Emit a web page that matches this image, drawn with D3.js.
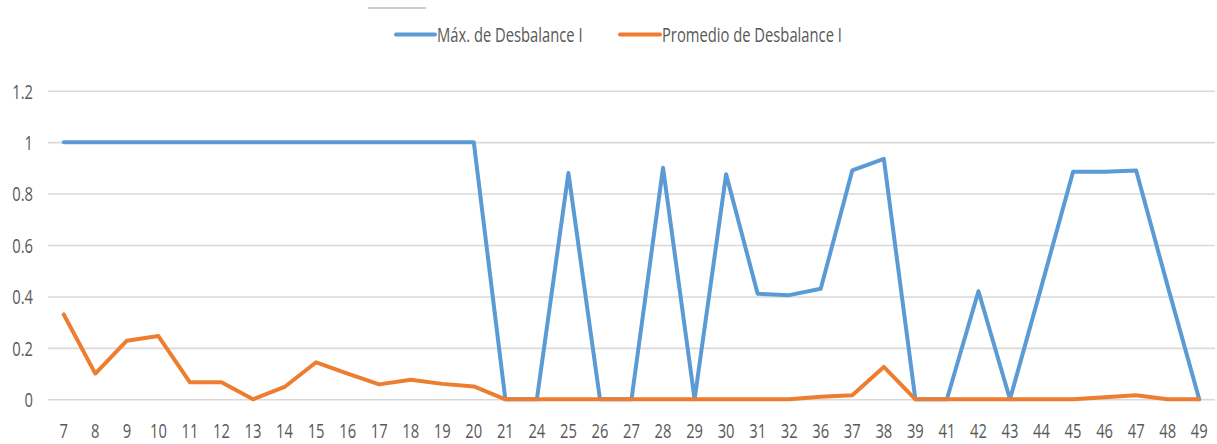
<!DOCTYPE html>
<html>
<head>
<meta charset="utf-8">
<script src="https://cdn.jsdelivr.net/npm/d3@7"></script>
<style>
  html, body { margin: 0; padding: 0; background: #ffffff; }
  svg { display: block; }
  text { font-family: "Open Sans", "Liberation Sans", sans-serif; fill: #595959; }
</style>
</head>
<body>
<script>
// Categories along the x axis
const categories = ["7","8","9","10","11","12","13","14","15","16","17","18","19","20","21","24","25","26","27","28","29","30","31","32","36","37","38","39","41","42","43","44","45","46","47","48","49"];

// Máx. de Desbalance I
const maxValues = [1,1,1,1,1,1,1,1,1,1,1,1,1,1,0,0,0.88,0,0,0.9,0,0.875,0.41,0.405,0.43,0.89,0.935,0,0,0.42,0,0.44,0.885,0.885,0.89,0.44,0];

// Promedio de Desbalance I
const avgValues = [0.33,0.1,0.228,0.246,0.066,0.066,0,0.048,0.144,0.1,0.058,0.076,0.06,0.05,0,0,0,0,0,0,0,0,0,0,0.01,0.016,0.126,0,0,0,0,0,0,0.008,0.016,0,0];

const seriesNames = ["Máx. de Desbalance I", "Promedio de Desbalance I"];
const seriesColors = ["#5B9BD5", "#ED7D31"];
const yTicks = [0, 0.2, 0.4, 0.6, 0.8, 1, 1.2];

const W = 1217, H = 444;
const textScale = 0.72;
const fontSize = 20.5;

const svg = d3.select("body").append("svg")
  .attr("width", W).attr("height", H);

const x = d3.scaleBand().domain(categories).range([48, 1215]).padding(0);
const y = d3.scaleLinear().domain([0, 1.2]).range([399.3, 90.7]);
const cx = c => x(c) + x.bandwidth() / 2;

// Horizontal gridlines with value labels
const yAxis = svg.append("g")
  .attr("transform", "translate(48,0)")
  .call(d3.axisLeft(y).tickValues(yTicks).tickFormat(d3.format("~g"))
    .tickSize(-(1215 - 48)).tickPadding(0));
yAxis.select(".domain").remove();
yAxis.selectAll(".tick line").attr("stroke", "#d9d9d9").attr("stroke-width", 1.6);
yAxis.selectAll(".tick text")
  .attr("x", -15 / textScale)
  .attr("dy", "0.36em")
  .attr("transform", `scale(${textScale},1)`)
  .style("font-size", fontSize + "px")
  .attr("fill", "#595959");

// Category labels
const xAxis = svg.append("g")
  .attr("transform", "translate(0,399.3)")
  .call(d3.axisBottom(x).tickSize(0).tickPadding(0));
xAxis.select(".domain").remove();
xAxis.selectAll(".tick text")
  .attr("y", 39)
  .attr("dy", 0)
  .attr("transform", `scale(${textScale},1)`)
  .style("font-size", fontSize + "px")
  .attr("fill", "#595959");

// Series lines
const line = d3.line()
  .x((d, i) => cx(categories[i]))
  .y(d => y(d));

[maxValues, avgValues].forEach((vals, k) => {
  svg.append("path")
    .datum(vals)
    .attr("d", line)
    .attr("fill", "none")
    .attr("stroke", seriesColors[k])
    .attr("stroke-width", 4)
    .attr("stroke-linejoin", "round")
    .attr("stroke-linecap", "round");
});

// Small rule above the legend
svg.append("line")
  .attr("x1", 368).attr("x2", 426).attr("y1", 8).attr("y2", 8)
  .attr("stroke", "#cccccc").attr("stroke-width", 2);

// Legend
const legendItems = [
  { x1: 396, x2: 435, tx: 437 },
  { x1: 620, x2: 660, tx: 662 }
];
legendItems.forEach((p, k) => {
  svg.append("line")
    .attr("x1", p.x1).attr("x2", p.x2).attr("y1", 34.5).attr("y2", 34.5)
    .attr("stroke", seriesColors[k]).attr("stroke-width", 4)
    .attr("stroke-linecap", "round");
  svg.append("text")
    .attr("x", p.tx / textScale)
    .attr("y", 42)
    .attr("transform", `scale(${textScale},1)`)
    .style("font-size", fontSize + "px")
    .text(seriesNames[k]);
});
</script>
</body>
</html>
